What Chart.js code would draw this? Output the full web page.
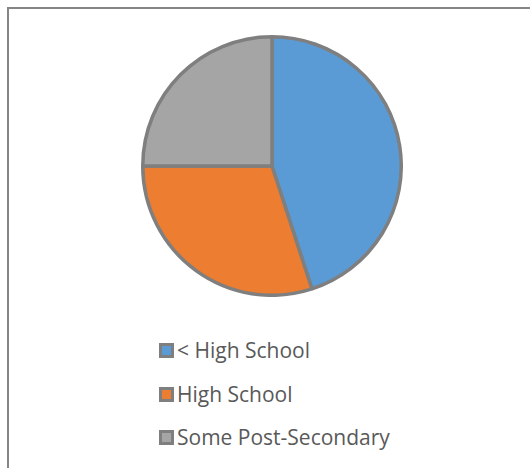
<!DOCTYPE html>
<html>
<head>
<meta charset="utf-8">
<script src="https://cdn.jsdelivr.net/npm/chart.js@4/dist/chart.umd.min.js"></script>
<style>
  html, body { margin: 0; padding: 0; background: #ffffff; }
  body { width: 530px; height: 468px; position: relative; overflow: hidden; }
  #frame { position: absolute; left: 7px; top: 7px; width: 530px; height: 470px;
           border-top: 2px solid #868686; border-left: 2px solid #868686; box-sizing: border-box; }
  #pieWrap { position: absolute; left: 141px; top: 35px; width: 262px; height: 262px; }
  #legend { position: absolute; left: 159px; top: 0; }
  .item { position: absolute; left: 0; white-space: nowrap; display: flex; align-items: center;
          font-family: "Open Sans", sans-serif; font-size: 21px; color: #595959; }
  .box { width: 15px; height: 15px; box-sizing: border-box; border: 3px solid #7f7f7f; margin-right: 3px; }
</style>
</head>
<body>
<div id="frame"></div>
<div id="pieWrap"><canvas id="c"></canvas></div>
<div id="legend"></div>
<script>
const categories = ["< High School", "High School", "Some Post-Secondary"];
const shares = [45, 30, 25];
const sliceColors = ["#5b9bd5", "#ed7d31", "#a5a5a5"];
const legendRowCenters = [350, 394, 437];

const chart = new Chart(document.getElementById('c'), {
  type: 'pie',
  data: {
    labels: categories,
    datasets: [{
      data: shares,
      backgroundColor: sliceColors,
      borderColor: '#7f7f7f',
      borderWidth: 3.5
    }]
  },
  options: {
    responsive: true,
    maintainAspectRatio: false,
    animation: false,
    layout: { padding: 0 },
    plugins: { legend: { display: false }, tooltip: { enabled: false } }
  }
});

const legend = document.getElementById('legend');
chart.data.labels.forEach((lab, i) => {
  const row = document.createElement('div');
  row.className = 'item';
  row.style.top = (legendRowCenters[i] - 15) + 'px';
  row.style.height = '30px';
  const box = document.createElement('span');
  box.className = 'box';
  box.style.background = chart.data.datasets[0].backgroundColor[i];
  const txt = document.createElement('span');
  txt.textContent = lab;
  row.appendChild(box);
  row.appendChild(txt);
  legend.appendChild(row);
});
</script>
</body>
</html>
